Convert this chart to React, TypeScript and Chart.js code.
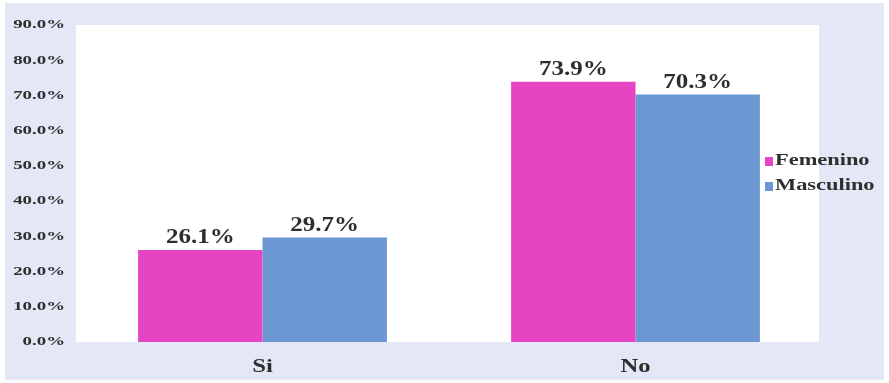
import React, { useEffect, useRef } from "react";
import { Chart, registerables } from "chart.js";

Chart.register(...registerables);

const categories = ["Si", "No"];
const femenino = [26.1, 73.9];
const masculino = [29.7, 70.3];
const yTicks = [0, 10, 20, 30, 40, 50, 60, 70, 80, 90];
const seriesNames = ["Femenino", "Masculino"];
const seriesColors = ["#e544c2", "#6b98d3"];

const FONT = "'Liberation Serif', 'Times New Roman', serif";
const TEXT = "#2e2e2e";

function stretchText(ctx: any, text: string, x: number, y: number, align: string, sx: number) {
  ctx.save();
  ctx.translate(x, y);
  ctx.scale(sx, 1);
  ctx.textAlign = align;
  ctx.fillText(text, 0, 0);
  ctx.restore();
}

const bgPlugin = {
  id: "bgPlugin",
  beforeDraw(chart: any) {
    const { ctx, chartArea, width, height } = chart;
    ctx.save();
    ctx.fillStyle = "#ffffff";
    ctx.fillRect(0, 0, width, height);
    ctx.fillStyle = "#e4e8f6";
    ctx.fillRect(5, 3, width - 10, height - 6);
    ctx.fillStyle = "#ffffff";
    ctx.fillRect(chartArea.left, chartArea.top, chartArea.right - chartArea.left - 3, chartArea.bottom - chartArea.top);
    ctx.restore();
  },
};

const axisTextPlugin = {
  id: "axisTextPlugin",
  afterDraw(chart: any) {
    const { ctx, scales } = chart;
    ctx.save();
    ctx.fillStyle = TEXT;
    ctx.textBaseline = "middle";
    ctx.font = `bold 13px ${FONT}`;
    yTicks.forEach((v) => {
      stretchText(ctx, v.toFixed(1) + "%", scales.y.left + 65, scales.y.getPixelForValue(v), "right", 1.45);
    });
    ctx.font = `bold 19px ${FONT}`;
    categories.forEach((c, i) => {
      stretchText(ctx, c, scales.x.getPixelForValue(i), scales.x.top + 25, "center", 1.3);
    });
    ctx.restore();
  },
};

const labelPlugin = {
  id: "labelPlugin",
  afterDatasetsDraw(chart: any) {
    const { ctx } = chart;
    ctx.save();
    ctx.font = `bold 20px ${FONT}`;
    ctx.fillStyle = TEXT;
    ctx.textBaseline = "bottom";
    chart.data.datasets.forEach((ds: any, i: number) => {
      const meta = chart.getDatasetMeta(i);
      meta.data.forEach((bar: any, j: number) => {
        stretchText(ctx, ds.data[j].toFixed(1) + "%", bar.x, bar.y - 2, "center", 1.25);
      });
    });
    ctx.restore();
  },
};

const legendPlugin = {
  id: "legendPlugin",
  afterDraw(chart: any) {
    const { ctx, chartArea } = chart;
    ctx.save();
    ctx.font = `bold 16px ${FONT}`;
    ctx.textBaseline = "middle";
    const cy = (chartArea.top + chartArea.bottom) / 2 - 10;
    const x0 = chartArea.right - 57;
    chart.data.datasets.forEach((ds: any, i: number) => {
      const y = cy - 12.5 + i * 25;
      ctx.fillStyle = ds.backgroundColor;
      ctx.fillRect(x0, y - 4, 8, 9);
      ctx.fillStyle = TEXT;
      stretchText(ctx, ds.label, x0 + 10, y, "left", 1.4);
    });
    ctx.restore();
  },
};

export default function App() {
  const ref = useRef<HTMLCanvasElement>(null);
  useEffect(() => {
    if (!ref.current) return;
    const chart = new Chart(ref.current, {
      type: "bar",
      data: {
        labels: categories,
        datasets: [
          { label: seriesNames[0], data: femenino, backgroundColor: seriesColors[0] },
          { label: seriesNames[1], data: masculino, backgroundColor: seriesColors[1] },
        ],
      },
      options: {
        animation: false,
        responsive: false,
        maintainAspectRatio: false,
        layout: { padding: { left: 0, right: 67, top: 25, bottom: 0 } },
        plugins: { legend: { display: false }, tooltip: { enabled: false } },
        datasets: { bar: { categoryPercentage: 0.667, barPercentage: 1 } },
        scales: {
          x: {
            grid: { display: false, drawTicks: false },
            border: { display: false },
            ticks: { display: false },
            afterFit: (s: any) => { s.height = 41; },
          },
          y: {
            min: 0,
            max: 90,
            afterBuildTicks: (s: any) => { s.ticks = yTicks.map((v) => ({ value: v })); },
            grid: { display: false, drawTicks: false },
            border: { display: false },
            ticks: { display: false },
            afterFit: (s: any) => { s.width = 76; },
          },
        },
      },
      plugins: [bgPlugin, labelPlugin, axisTextPlugin, legendPlugin],
    });
    return () => chart.destroy();
  }, []);
  return (
    <div style={{ position: "absolute", left: 0, top: 0, width: 889, height: 383 }}>
      <canvas ref={ref} width={889} height={383} style={{ display: "block" }} />
    </div>
  );
}
